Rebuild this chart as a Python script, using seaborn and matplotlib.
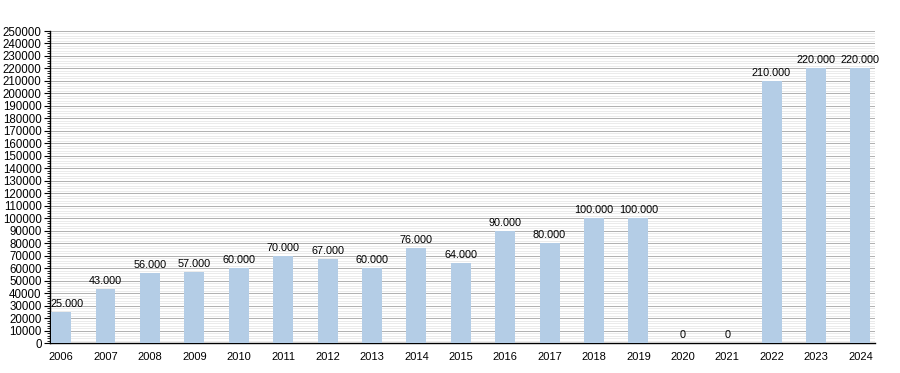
import numpy as np
import pandas as pd
import seaborn as sns
import matplotlib.pyplot as plt
from matplotlib.ticker import MultipleLocator

years = [str(y) for y in range(2006, 2025)]
values = [25000, 43000, 56000, 57000, 60000, 70000, 67000, 60000, 76000, 64000,
          90000, 80000, 100000, 100000, 0, 0, 210000, 220000, 220000]

df = pd.DataFrame({"year": years, "value": values})

sns.set_style("white")
plt.rcParams['font.family'] = ['Liberation Sans', 'DejaVu Sans']
plt.rcParams['text.color'] = 'black'
plt.rcParams['xtick.color'] = 'black'
plt.rcParams['ytick.color'] = 'black'

fig = plt.figure(figsize=(9, 3.73), dpi=100)
ax = fig.add_axes([50 / 900, 1 - 343 / 373, 825 / 900, 312 / 373])

sns.barplot(data=df, x="year", y="value", color="#b4cde6", width=0.45,
            saturation=1, edgecolor="none", linewidth=0, ax=ax, zorder=3)

ax.set_ylim(0, 250000)
ax.set_xlim(-0.25, 18.33)
ax.yaxis.set_major_locator(MultipleLocator(10000))
ax.yaxis.set_minor_locator(MultipleLocator(2000))
ax.grid(which="major", axis="y", color="#b0b0b0", linewidth=0.7, zorder=0)
ax.grid(which="minor", axis="y", color="#e8e8e8", linewidth=0.6, zorder=0)
ax.set_axisbelow(True)

for s in ["top", "right"]:
    ax.spines[s].set_visible(False)
for s in ["left", "bottom"]:
    ax.spines[s].set_color("black")
    ax.spines[s].set_linewidth(1.0)

ax.tick_params(axis="y", which="major", left=True, length=4, width=0.8,
               labelsize=8.3, pad=2, color="black", labelcolor="black")
ax.tick_params(axis="y", which="minor", left=True, length=2, width=0.6, color="black")
ax.tick_params(axis="x", bottom=False, labelsize=8.0, pad=3, labelcolor="black")
ax.set_xlabel("")
ax.set_ylabel("")

for i, v in enumerate(values):
    label = f"{v:,}".replace(",", ".")
    # the first label is kept inside the plot area, right of the axis
    if i == 0:
        ax.text(-0.24, v + 2500, label, ha="left", va="bottom", fontsize=7.8,
                color="black", zorder=4)
    else:
        ax.text(i, v + 2500, label, ha="center", va="bottom", fontsize=7.8,
                color="black", zorder=4)

fig.savefig("out.png", dpi=100)
plt.close()
